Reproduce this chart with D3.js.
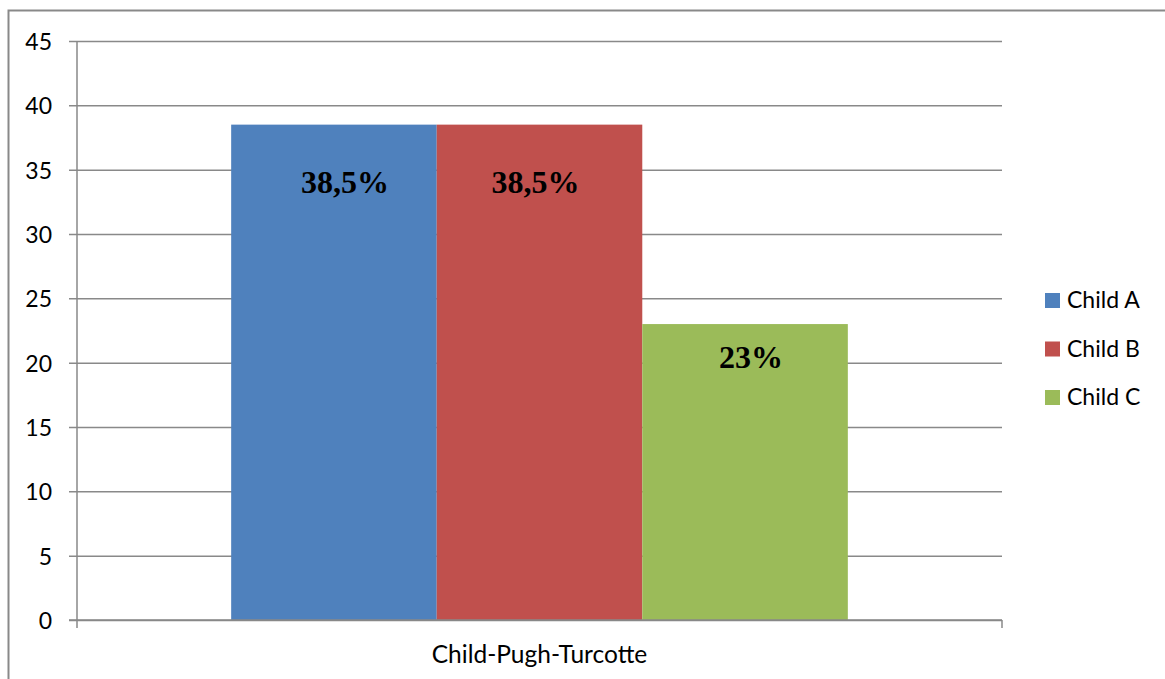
<!DOCTYPE html>
<html>
<head>
<meta charset="utf-8">
<script src="https://cdn.jsdelivr.net/npm/d3@7"></script>
<style>
  html, body { margin: 0; padding: 0; background: #fff; }
  svg { display: block; }
</style>
</head>
<body>
<script>
// Chart data
const categories = ["Child-Pugh-Turcotte"];
const seriesNames = ["Child A", "Child B", "Child C"];
const seriesValues = [38.5, 38.5, 23];
const valueLabels = ["38,5%", "38,5%", "23%"];
const yTicks = [0, 5, 10, 15, 20, 25, 30, 35, 40, 45];
const seriesColors = ["#4f81bd", "#c0504d", "#9bbb59"];

const W = 1165, H = 679;
const plot = { left: 77, right: 1002, top: 41, bottom: 620 };
const gridColor = "#898989";
const sansFont = "Lato, 'Open Sans', sans-serif";

const svg = d3.select("body").append("svg")
  .attr("width", W).attr("height", H);

// Outer chart frame (runs off the right and bottom edges)
svg.append("rect")
  .attr("x", 8.5).attr("y", 10.5)
  .attr("width", W + 20).attr("height", H + 20)
  .attr("fill", "none").attr("stroke", gridColor).attr("stroke-width", 2);

const y = d3.scaleLinear().domain([0, 45]).range([plot.bottom, plot.top]);
const x0 = d3.scaleBand().domain(categories).range([plot.left, plot.right]);
const x1 = d3.scaleBand().domain(seriesNames)
  .range([0, x0.bandwidth()]).paddingInner(0).paddingOuter(0.75);

// Horizontal gridlines, extended left to form tick marks
const yAxis = d3.axisLeft(y).tickValues(yTicks)
  .tickSize(-(plot.right - plot.left)).tickSizeOuter(0).tickPadding(0)
  .tickFormat("");
const gy = svg.append("g").attr("transform", `translate(${plot.left},0)`).call(yAxis);
gy.select(".domain").remove();
gy.selectAll(".tick line")
  .attr("x1", -8)
  .attr("stroke", gridColor).attr("stroke-width", 1.5);

// Y tick labels
svg.append("g").selectAll("text").data(yTicks).join("text")
  .attr("x", 52).attr("y", d => y(d))
  .attr("text-anchor", "end").attr("dominant-baseline", "central")
  .attr("font-family", sansFont).attr("font-size", 23).attr("fill", "#000")
  .text(d => d);

// Bars
const barG = svg.append("g");
categories.forEach(cat => {
  barG.selectAll(null).data(seriesNames).join("rect")
    .attr("x", s => x0(cat) + x1(s))
    .attr("y", (s, i) => y(seriesValues[i]))
    .attr("width", x1.bandwidth())
    .attr("height", (s, i) => y(0) - y(seriesValues[i]))
    .attr("fill", (s, i) => seriesColors[i]);
});

// Value axis line (vertical) and category axis line
svg.append("line")
  .attr("x1", plot.left).attr("x2", plot.left)
  .attr("y1", plot.top).attr("y2", plot.bottom + 8)
  .attr("stroke", gridColor).attr("stroke-width", 1.5);
svg.append("line")
  .attr("x1", plot.left - 8).attr("x2", plot.right)
  .attr("y1", plot.bottom).attr("y2", plot.bottom)
  .attr("stroke", gridColor).attr("stroke-width", 1.5);
svg.append("line")
  .attr("x1", plot.right).attr("x2", plot.right)
  .attr("y1", plot.bottom).attr("y2", plot.bottom + 8)
  .attr("stroke", gridColor).attr("stroke-width", 1.5);

// Category label
svg.append("g").selectAll("text").data(categories).join("text")
  .attr("x", c => x0(c) + x0.bandwidth() / 2).attr("y", 663)
  .attr("text-anchor", "middle")
  .attr("font-family", sansFont).attr("font-size", 24.5).attr("fill", "#000")
  .text(c => c);

// Value labels inside the bars (hand-placed nudges per bar)
const nudges = { "Child A": [11, 68], "Child B": [-4, 68], "Child C": [6, 44] };
svg.append("g").selectAll("text").data(seriesNames).join("text")
  .attr("x", s => x0(categories[0]) + x1(s) + x1.bandwidth() / 2 + nudges[s][0])
  .attr("y", (s, i) => y(seriesValues[i]) + nudges[s][1])
  .attr("text-anchor", "middle")
  .attr("font-family", "'Liberation Serif', 'Times New Roman', serif")
  .attr("font-weight", "bold").attr("font-size", 32).attr("fill", "#000")
  .text((s, i) => valueLabels[i]);

// Legend
const legend = svg.append("g").selectAll("g").data(seriesNames).join("g")
  .attr("transform", (s, i) => `translate(1045, ${293 + i * 48.5})`);
legend.append("rect")
  .attr("width", 15).attr("height", 15)
  .attr("fill", (s, i) => seriesColors[i]);
legend.append("text")
  .attr("x", 22).attr("y", 15)
  .attr("font-family", sansFont).attr("font-size", 23).attr("fill", "#000")
  .text(s => s);
</script>
</body>
</html>
